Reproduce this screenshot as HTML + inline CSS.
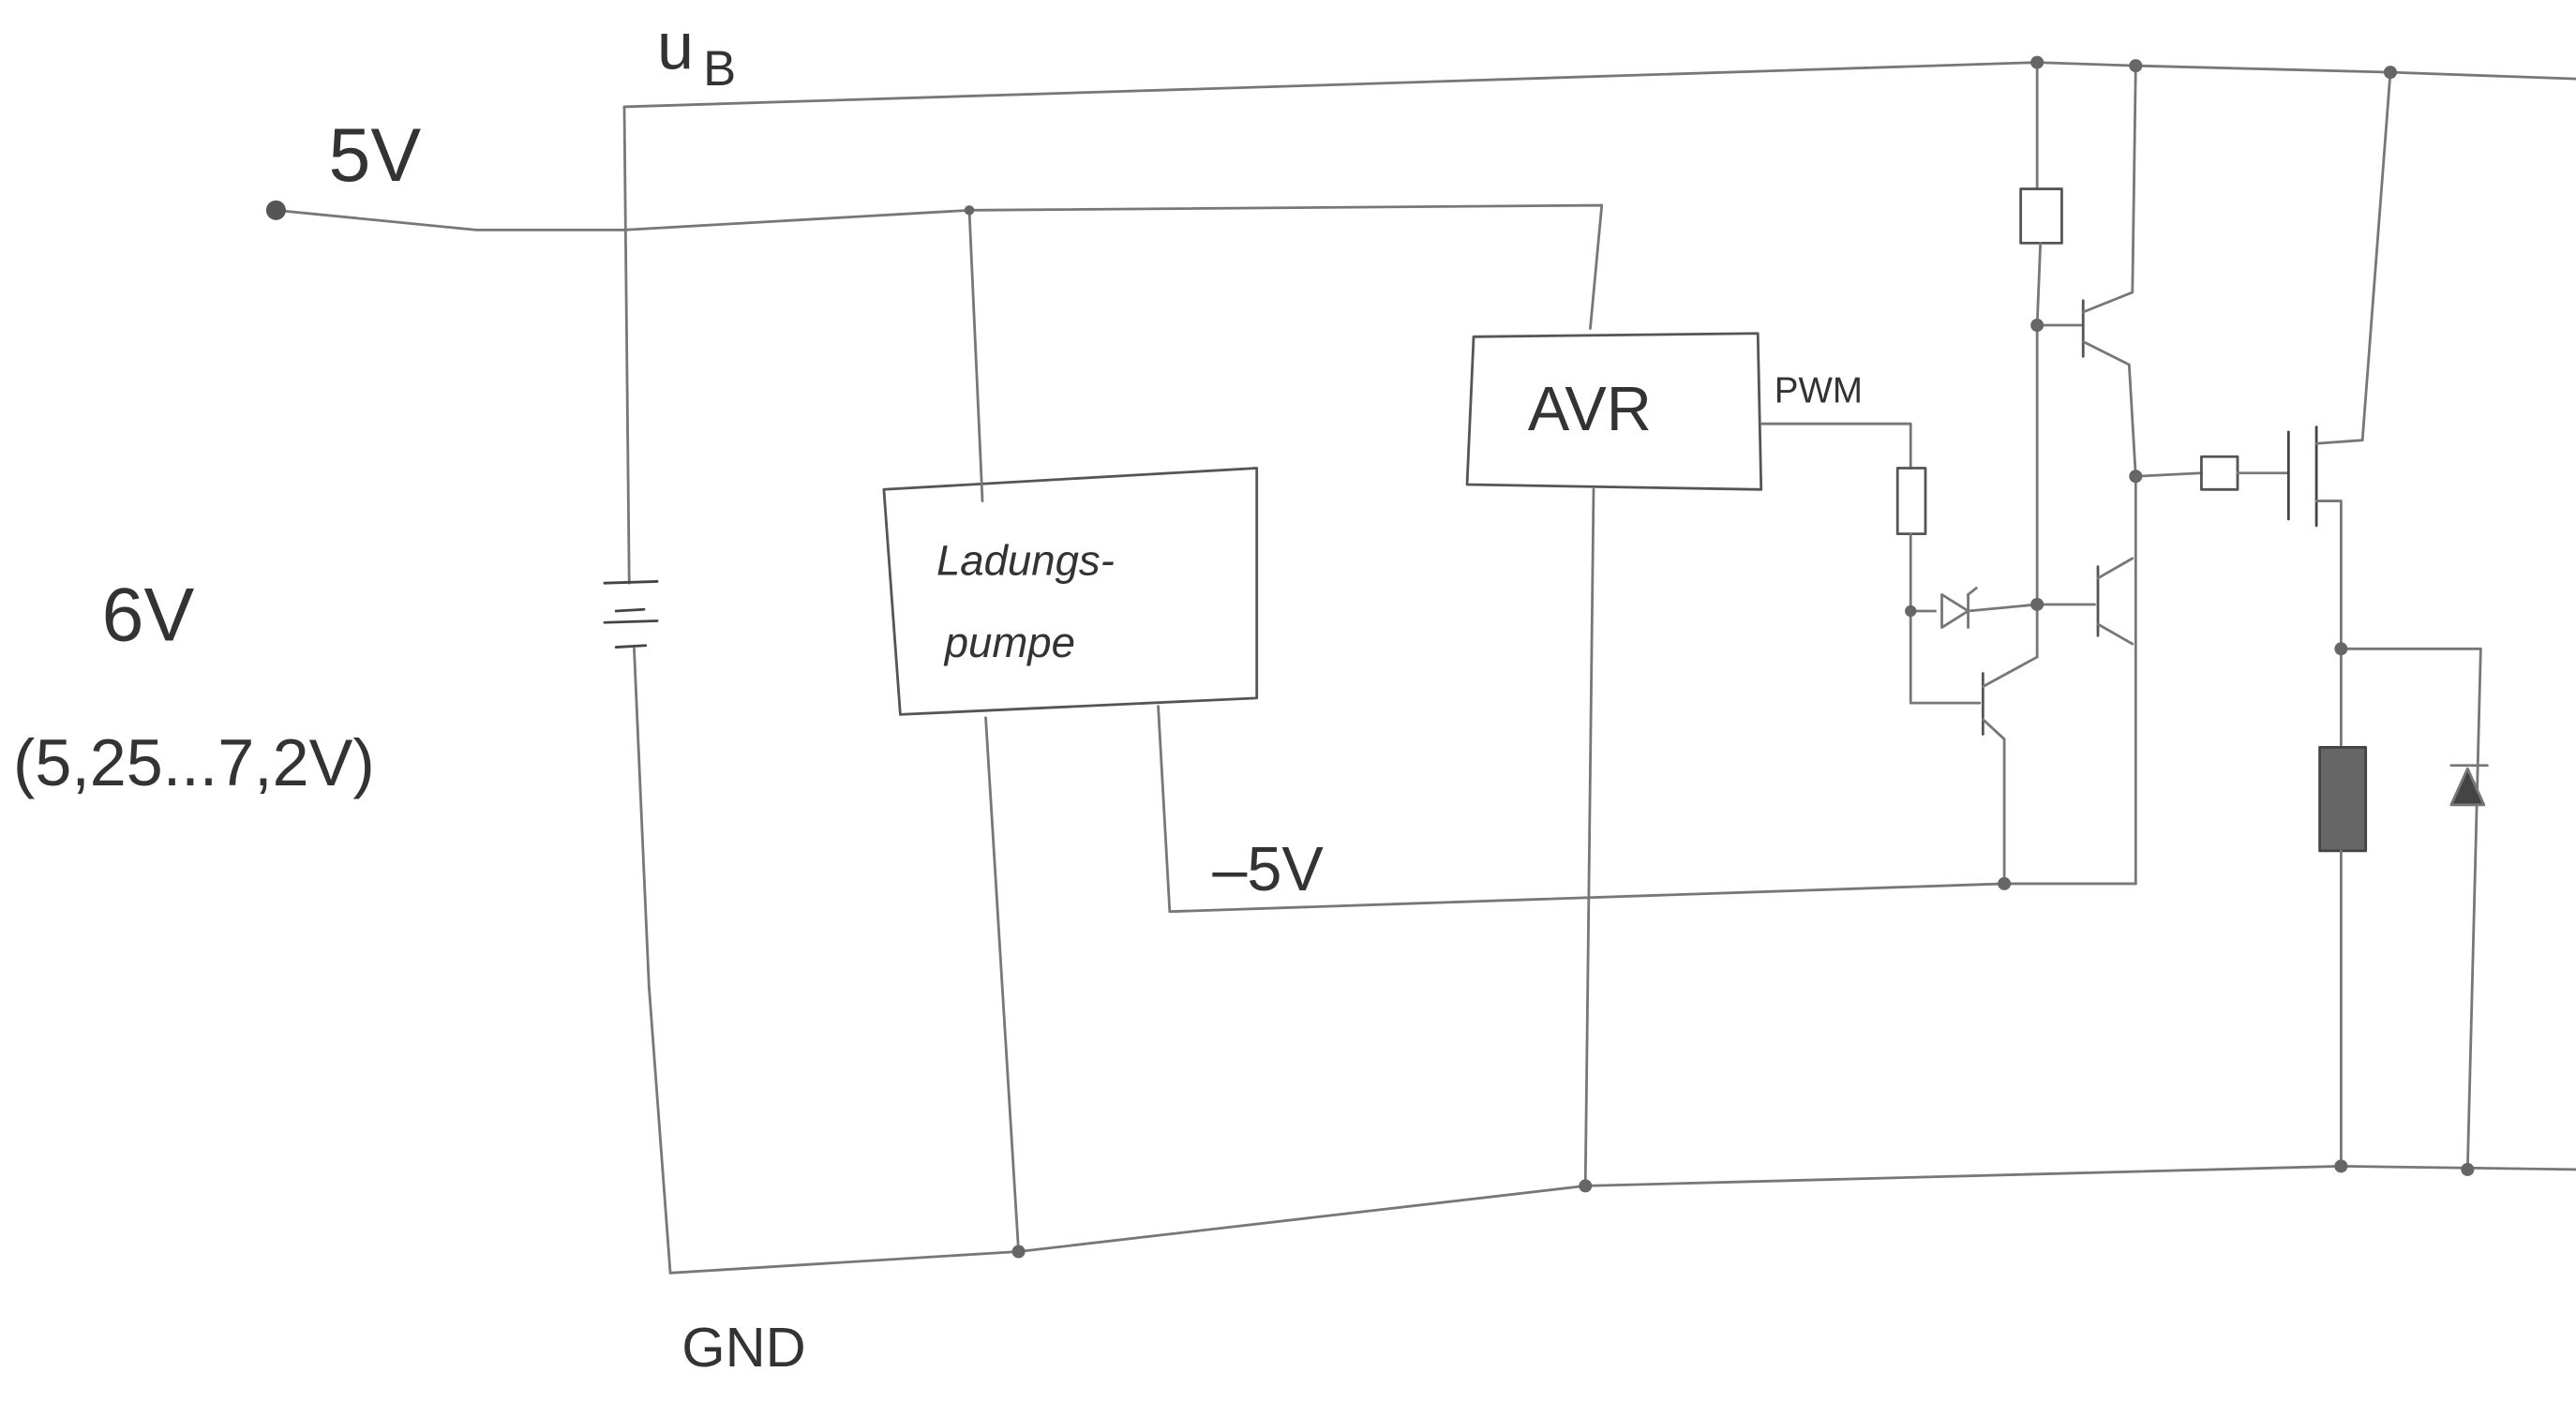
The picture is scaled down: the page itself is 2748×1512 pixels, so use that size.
<!DOCTYPE html>
<html><head><meta charset="utf-8"><style>
html,body{margin:0;padding:0;background:#fff;}
svg{display:block}
text{font-family:"Liberation Sans","DejaVu Sans",sans-serif;fill:#333;}
</style></head><body>
<svg width="2748" height="1512" viewBox="0 0 1568 862.7" preserveAspectRatio="none" xmlns="http://www.w3.org/2000/svg">
<g fill="none" stroke="#777" stroke-width="1.6" stroke-linecap="round" stroke-linejoin="round">
<!-- UB line -->
<polyline points="380,65 800,52 1240,38 1300,40 1455,44 1568,48"/>
<!-- left vertical -->
<polyline points="380,65 383,355"/><polyline points="386,395 395,600 408,775"/>
<!-- GND -->
<polyline points="408,775 620,762 965,722 1425,710 1568,712"/>
<!-- 5V line -->
<polyline points="168,128 290,140 380,140 590,128 975,125 968,200"/>
<!-- battery -->
<line x1="368" y1="355" x2="400" y2="354" stroke="#444"/>
<line x1="375" y1="372" x2="392" y2="371" stroke="#444"/>
<line x1="368" y1="379" x2="400" y2="378" stroke="#444"/>
<line x1="375" y1="394" x2="393" y2="393" stroke="#444"/>
<!-- Ladungspumpe box -->
<polygon points="538,298 765,285 765,425 548,435" stroke="#555"/>
<polyline points="590,128 598,305"/>
<polyline points="600,437 620,762"/>
<polyline points="705,430 712,555 1220,538 1300,538"/>
<!-- AVR box -->
<polygon points="897,205 1070,203 1072,298 893,295" stroke="#555"/>
<polyline points="970,298 965,722"/>
<!-- PWM to resistor -->
<polyline points="1072,258 1163,258 1163,285"/>
<rect x="1155" y="285" width="17" height="40" stroke="#555"/>
<polyline points="1163,325 1163,372 1178,372"/>
<!-- zener -->
<polygon points="1182,362 1182,382 1198,372"/>
<line x1="1198" y1="362" x2="1198" y2="382"/><line x1="1198" y1="362" x2="1203" y2="358"/>
<polyline points="1198,372 1240,368 1275,368"/>
<!-- lower transistor -->
<polyline points="1163,372 1163,428 1205,428"/>
<line x1="1207" y1="410" x2="1207" y2="447" stroke="#555"/>
<polyline points="1207,418 1240,400"/>
<polyline points="1207,438 1220,450 1220,538"/>
<!-- 1240 vertical -->
<polyline points="1240,38 1240,115"/>
<rect x="1230" y="115" width="25" height="33" stroke="#555"/>
<polyline points="1242,148 1240,198 1240,400"/>
<!-- top transistor -->
<polyline points="1240,198 1268,198"/>
<line x1="1268" y1="183" x2="1268" y2="217" stroke="#555"/>
<polyline points="1268,190 1298,178 1300,40"/>
<polyline points="1268,208 1296,222 1300,290 1300,538"/>
<!-- second transistor -->
<line x1="1277" y1="345" x2="1277" y2="387" stroke="#555"/>
<polyline points="1277,352 1298,340"/>
<polyline points="1277,380 1298,392"/>
<!-- MOSFET gate -->
<polyline points="1300,290 1340,288"/>
<rect x="1340" y="278" width="22" height="20" stroke="#555"/>
<polyline points="1362,288 1392,288"/>
<line x1="1393" y1="263" x2="1393" y2="316" stroke="#444"/>
<line x1="1410" y1="260" x2="1410" y2="320" stroke="#444"/>
<polyline points="1410,270 1438,268 1455,44"/>
<polyline points="1410,305 1425,305 1425,395 1510,395 1502,712"/>
<polyline points="1425,395 1425,455"/>
<rect x="1412" y="455" width="28" height="63" fill="#666" stroke="#444"/>
<polyline points="1425,518 1425,710"/>
<!-- diode -->
<polygon points="1492,490 1512,490 1502,468" fill="#444"/>
<line x1="1492" y1="466" x2="1514" y2="466"/>
</g>
<g fill="#666">
<circle cx="168" cy="128" r="6" fill="#555"/>
<circle cx="1240" cy="38" r="4"/><circle cx="1300" cy="40" r="4"/><circle cx="1455" cy="44" r="4"/>
<circle cx="590" cy="128" r="3"/><circle cx="1240" cy="198" r="4"/><circle cx="1300" cy="290" r="4"/>
<circle cx="1163" cy="372" r="3.5"/><circle cx="1240" cy="368" r="4"/><circle cx="1425" cy="395" r="4"/>
<circle cx="1220" cy="538" r="4"/><circle cx="965" cy="722" r="4"/><circle cx="620" cy="762" r="4"/>
<circle cx="1425" cy="710" r="4"/><circle cx="1502" cy="712" r="4"/>
</g>
<text x="400" y="42" font-size="40">u</text><text x="428" y="52" font-size="30">B</text>
<text x="200" y="110" font-size="46">5V</text>
<text x="62" y="390" font-size="46">6V</text>
<text x="8" y="478" font-size="40">(5,25...7,2V)</text>
<text x="570" y="350" font-size="26" font-style="italic">Ladungs-</text>
<text x="575" y="400" font-size="26" font-style="italic">pumpe</text>
<text x="930" y="262" font-size="38">AVR</text>
<text x="1080" y="245" font-size="22">PWM</text>
<text x="738" y="542" font-size="38">–5V</text>
<text x="415" y="832" font-size="34">GND</text>
</svg>
</body></html>
